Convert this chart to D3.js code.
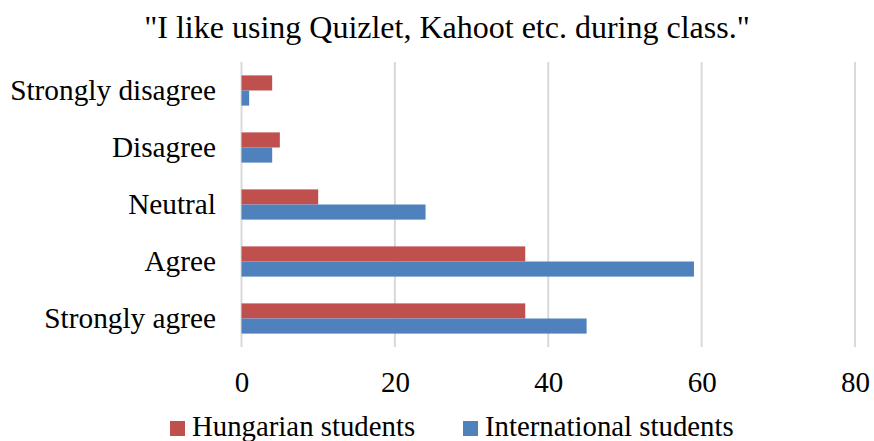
<!DOCTYPE html>
<html><head><meta charset="utf-8">
<script src="https://cdn.jsdelivr.net/npm/d3@7"></script>
<style>body{margin:0;background:#fff}svg{display:block}</style>
</head><body>
<script>
const categories = ["Strongly disagree","Disagree","Neutral","Agree","Strongly agree"];
const hungarian = [4,5,10,37,37];
const international = [1,4,24,59,45];
const seriesNames = ["Hungarian students","International students"];
const seriesColors = ["#C0504D","#4F81BD"];
const xTicks = [0,20,40,60,80];
const title = "\"I like using Quizlet, Kahoot etc. during class.\"";

const FONT="'Liberation Serif','Times New Roman',serif";
const W=874,H=441;
const svg=d3.select("body").append("svg").attr("width",W).attr("height",H)
  .attr("font-family",FONT);
const x=d3.scaleLinear().domain([0,80]).range([241.5,855]);
const y=d3.scaleBand().domain(categories).range([62,347]).paddingInner(0.47).paddingOuter(0.235);
const sub=d3.scaleBand().domain(seriesNames).range([0,y.bandwidth()]);

svg.append("text").attr("x",447).attr("y",38).attr("text-anchor","middle")
  .attr("font-size",32).attr("font-family",FONT).attr("fill","#000").text(title);

// gridlines
svg.append("g").selectAll("line").data(xTicks).join("line")
  .attr("x1",d=>x(d)).attr("x2",d=>x(d)).attr("y1",62).attr("y2",347)
  .attr("stroke","#d9d9d9").attr("stroke-width",2);

const data=[hungarian,international];
data.forEach((vals,si)=>{
  svg.append("g").selectAll("rect").data(categories).join("rect")
    .attr("x",x(0)).attr("y",c=>y(c)+sub(seriesNames[si]))
    .attr("width",(c,i)=>x(vals[i])-x(0)).attr("height",sub.bandwidth())
    .attr("fill",seriesColors[si]);
});

// y labels
svg.append("g").selectAll("text").data(categories).join("text")
  .attr("x",216).attr("y",c=>y(c)+y.bandwidth()/2+9)
  .attr("text-anchor","end").attr("font-size",29.3).attr("font-family",FONT).attr("fill","#000").text(c=>c);

// x axis
const xAxis=svg.append("g").attr("transform","translate(0,392)")
  .call(d3.axisBottom(x).tickValues(xTicks).tickSize(0).tickPadding(0));
xAxis.attr("font-family",FONT).attr("font-size",29);
xAxis.select(".domain").remove();
xAxis.selectAll("text").attr("dy",0).attr("y",0).attr("font-size",29).attr("font-family",FONT).attr("fill","#000");

// legend
const leg=[{x:170,tx:192},{x:463,tx:485}];
seriesNames.forEach((n,i)=>{
  svg.append("rect").attr("x",leg[i].x).attr("y",421).attr("width",15).attr("height",15).attr("fill",seriesColors[i]);
  svg.append("text").attr("x",leg[i].tx).attr("y",436).attr("font-size",28.8).attr("font-family",FONT).attr("fill","#000").text(n);
});
</script>
</body></html>
